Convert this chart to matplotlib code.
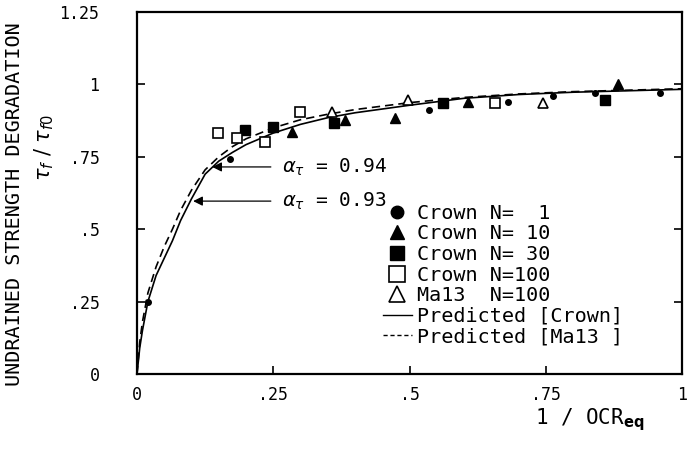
import numpy as np
import matplotlib.pyplot as plt
from matplotlib.lines import Line2D

# predicted curves
crown_x = [0.0, 0.005, 0.01, 0.02, 0.035, 0.05, 0.065, 0.08, 0.1, 0.125, 0.15, 0.175,
           0.2, 0.25, 0.3, 0.35, 0.4, 0.5, 0.6, 0.7, 0.8, 0.9, 1.0]
crown_y = [0.0, 0.09, 0.15, 0.25, 0.34, 0.40, 0.46, 0.53, 0.605, 0.69, 0.735, 0.765,
           0.792, 0.832, 0.862, 0.885, 0.902, 0.928, 0.952, 0.965, 0.973, 0.978, 0.983]
ma13_x = crown_x
ma13_y = [0.0, 0.11, 0.18, 0.28, 0.37, 0.44, 0.50, 0.565, 0.635, 0.705, 0.75, 0.785,
          0.812, 0.85, 0.878, 0.897, 0.913, 0.937, 0.955, 0.967, 0.975, 0.980, 0.985]

# test data
n1_x = [0.02, 0.171, 0.536, 0.681, 0.763, 0.840, 0.960]
n1_y = [0.25, 0.742, 0.912, 0.939, 0.960, 0.970, 0.970]
n10_x = [0.284, 0.382, 0.473, 0.607, 0.883]
n10_y = [0.836, 0.877, 0.884, 0.939, 1.001]
n30_x = [0.198, 0.250, 0.361, 0.561, 0.859]
n30_y = [0.843, 0.853, 0.867, 0.936, 0.946]
n100_x = [0.149, 0.183, 0.235, 0.299, 0.657]
n100_y = [0.832, 0.815, 0.801, 0.905, 0.936]
ma13_pts_x = [0.358, 0.497, 0.745]
ma13_pts_y = [0.905, 0.946, 0.936]

xticks = [0, 0.25, 0.5, 0.75, 1]
xtick_labels = ['0', '.25', '.5', '.75', '1']
yticks = [0, 0.25, 0.5, 0.75, 1, 1.25]
ytick_labels = ['0', '.25', '.5', '.75', '1', '1.25']

plt.rcParams['font.family'] = 'DejaVu Sans Mono'
plt.rcParams['mathtext.fontset'] = 'dejavusans'

fig = plt.figure(figsize=(6.87, 4.55), dpi=100)
ax = fig.add_axes([137/687, 81/455, 545/687, 362/455])

ax.plot(crown_x, crown_y, '-', color='k', lw=1.2)
ax.plot(ma13_x, ma13_y, color='k', lw=1.2, ls=(0, (5, 3)))

ax.plot(n1_x, n1_y, 'o', color='k', ms=4, ls='none')
ax.plot(n10_x, n10_y, '^', color='k', ms=7, ls='none')
ax.plot(n30_x, n30_y, 's', color='k', ms=6.5, ls='none')
ax.plot(n100_x, n100_y, 's', mfc='white', mec='k', mew=1.2, ms=7, ls='none')
ax.plot(ma13_pts_x, ma13_pts_y, '^', mfc='white', mec='k', mew=1.2, ms=7.5, ls='none')

ax.set_xlim(0, 1)
ax.set_ylim(0, 1.25)
ax.set_xticks(xticks)
ax.set_xticklabels(xtick_labels)
ax.set_yticks(yticks)
ax.set_yticklabels(ytick_labels)
ax.tick_params(direction='in', length=6, width=1.2, labelsize=12)
ax.tick_params(axis='y', right=True, pad=27)
ax.tick_params(axis='x', pad=9)
for s in ax.spines.values():
    s.set_linewidth(1.6)

# arrows for alpha values
ax.annotate(r'$\alpha_\tau$ = 0.94', xy=(0.138, 0.715), xytext=(0.266, 0.715),
            fontsize=14, va='center', ha='left',
            arrowprops=dict(arrowstyle='-|>', color='k', lw=0.9, shrinkA=6, shrinkB=0,
                            mutation_scale=14))
ax.annotate(r'$\alpha_\tau$ = 0.93', xy=(0.103, 0.597), xytext=(0.266, 0.597),
            fontsize=14, va='center', ha='left',
            arrowprops=dict(arrowstyle='-|>', color='k', lw=0.9, shrinkA=6, shrinkB=0,
                            mutation_scale=14))

handles = [
    Line2D([], [], marker='o', color='k', ls='none', ms=9),
    Line2D([], [], marker='^', color='k', ls='none', ms=10),
    Line2D([], [], marker='s', color='k', ls='none', ms=10),
    Line2D([], [], marker='s', mfc='white', mec='k', mew=1.2, ls='none', ms=11),
    Line2D([], [], marker='^', mfc='white', mec='k', mew=1.2, ls='none', ms=11),
    Line2D([], [], color='k', lw=1.0),
    Line2D([], [], color='k', lw=1.0, ls=(0, (3, 2))),
]
labels = ['Crown N=  1', 'Crown N= 10', 'Crown N= 30', 'Crown N=100',
          'Ma13  N=100', 'Predicted [Crown]', 'Predicted [Ma13 ]']
ax.legend(handles, labels, loc='upper left', bbox_to_anchor=(0.452, 0.47),
          frameon=False, fontsize=14.5, handlelength=1.4, handletextpad=0.25,
          labelspacing=0.08, borderpad=0, borderaxespad=0)

fig.text(15/687, 0.552, 'UNDRAINED STRENGTH DEGRADATION', rotation=90,
         ha='center', va='center', fontsize=14.5)
fig.text(44/687, 0.675, r'$\tau_f\ /\ \tau_{f0}$', rotation=90,
         ha='center', va='center', fontsize=15)
fig.text(0.859, 0.077, r'1 / OCR$_{\mathbf{eq}}$', ha='center', va='center',
         fontsize=15)

plt.savefig('out.png', dpi=100)
